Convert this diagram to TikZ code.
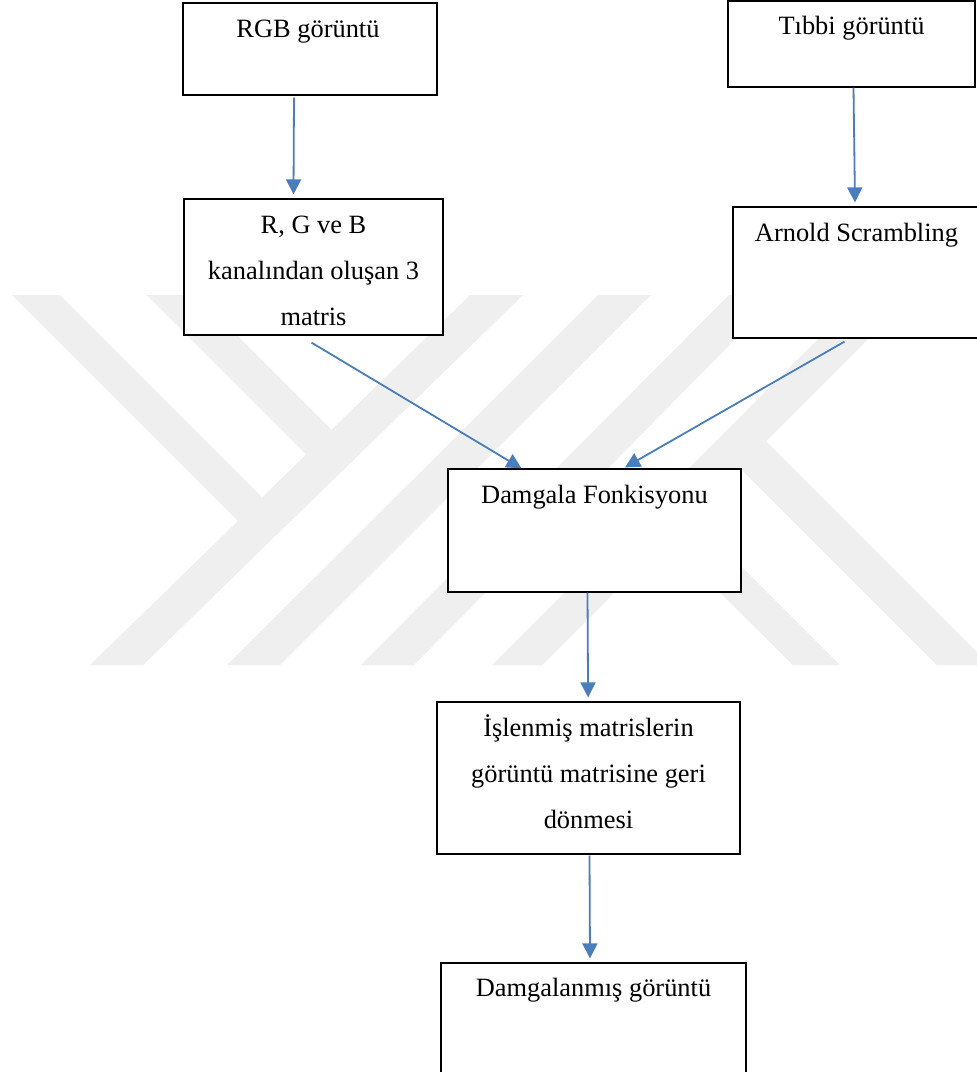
\documentclass[tikz,border=0pt]{standalone}
\usepackage{fontspec}
\setmainfont{Liberation Serif}
\usetikzlibrary{arrows.meta}
\definecolor{arrowblue}{RGB}{74,126,187}
\definecolor{wm}{RGB}{239,239,239}
\tikzset{
  box/.style={draw=black, line width=1.2pt, fill=white, inner sep=0pt},
  txt/.style={anchor=north, inner sep=0pt, align=center, font=\fontsize{26.4}{46}\selectfont},
  conn/.style={draw=arrowblue, line width=1.8pt, -{Triangle[length=15pt,width=15pt]}},
  wmark/.style={fill=wm, draw=none}
}
\begin{document}
\begin{tikzpicture}[x=1pt,y=-1pt]
\useasboundingbox (0,0) rectangle (977,1072);
\fill[white] (0,0) rectangle (977,1072);
% faint watermark
\fill[wmark] (12,295) -- (60,295) -- (277,512) -- (253,536) -- cycle;
\fill[wmark] (147,295) -- (197,295) -- (347,445) -- (321,469) -- cycle;
\fill[wmark] (470,295) -- (523,295) -- (143,665) -- (90,665) -- cycle;
\fill[wmark] (598,295) -- (651,295) -- (280,665) -- (227,665) -- cycle;
\fill[wmark] (729,295) -- (779,295) -- (414,665) -- (361,665) -- cycle;
\fill[wmark] (862,295) -- (912,295) -- (542,665) -- (492,665) -- cycle;
\fill[wmark] (751,426) -- (990,665) -- (937,665) -- (724,452) -- cycle;
\fill[wmark] (676,501) -- (840,665) -- (793,665) -- (652,525) -- cycle;
% boxes
\node[box, minimum width=254pt, minimum height=92pt]  (rgb) at (310,49) {};
\node[box, minimum width=247pt, minimum height=86pt]  (tib) at (851.5,44) {};
\node[box, minimum width=259pt, minimum height=136pt] (mat) at (313.5,267) {};
\node[box, minimum width=247pt, minimum height=131pt] (arn) at (856.5,272.5) {};
\node[box, minimum width=293pt, minimum height=123pt] (dam) at (594.5,530.5) {};
\node[box, minimum width=303pt, minimum height=152pt] (isl) at (588.5,778) {};
\node[box, minimum width=305pt, minimum height=127pt] (dgm) at (593.5,1026.5) {};
% texts
\node[txt] (trgb) at ([xshift=-2pt,yshift=-3.1pt]rgb.north) {\strut RGB görüntü};
\node[txt] (ttib) at ([yshift=-1.8pt]tib.north) {\strut Tıbbi görüntü};
\node[txt] (tmat) at ([yshift=-2.8pt]mat.north) {\strut R, G ve B\\\strut kanalından oluşan 3\\\strut matris};
\node[txt] (tarn) at ([yshift=-2.5pt]arn.north) {\strut Arnold Scrambling};
\node[txt] (tdam) at ([yshift=-3.1pt]dam.north) {\strut Damgala Fonkisyonu};
\node[txt] (tisl) at ([yshift=-2.5pt]isl.north) {\strut İşlenmiş matrislerin\\\strut görüntü matrisine geri\\\strut dönmesi};
\node[txt] (tdgm) at ([yshift=-1.8pt]dgm.north) {\strut Damgalanmış görüntü};
% connectors
\draw[conn] ([xshift=-16pt,yshift=-2pt]rgb.south) -- ([xshift=-20pt,yshift=4pt]mat.north);
\draw[conn] ([xshift=2pt]tib.south) -- ([xshift=-1.5pt,yshift=4pt]arn.north);
\draw[conn] ([xshift=-2pt,yshift=-7pt]mat.south) -- ([xshift=-73pt]dam.north);
\draw[conn] ([xshift=-12pt,yshift=-3pt]arn.south) -- ([xshift=30.5pt,yshift=1pt]dam.north);
\draw[conn] ([xshift=-7pt]dam.south) -- ([xshift=-0.4pt,yshift=4pt]isl.north);
\draw[conn] ([xshift=1pt,yshift=-1pt]isl.south) -- ([xshift=-3.5pt,yshift=4pt]dgm.north);
\end{tikzpicture}
\end{document}
